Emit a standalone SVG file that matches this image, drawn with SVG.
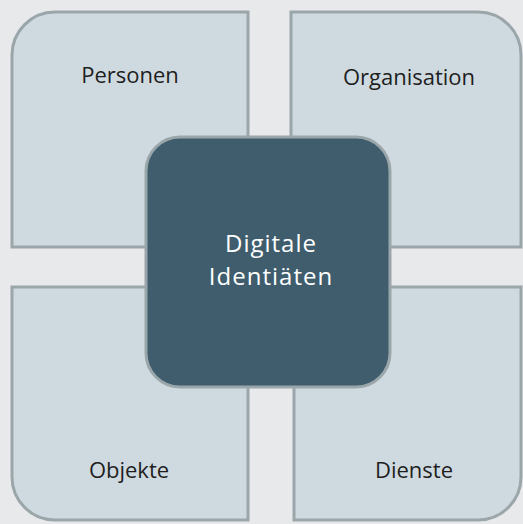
<svg xmlns="http://www.w3.org/2000/svg" width="523" height="524" viewBox="0 0 523 524">
  <style>
    .quad { fill: #cfdae0; stroke: #9ba6ab; stroke-width: 3; }
    .core { fill: #3f5d6d; stroke: #9ba6ab; stroke-width: 3; }
    .lbl { font-family: "Open Sans", "Noto Sans", sans-serif; font-size: 22px; fill: #1e1e1e; text-anchor: middle; }
    .lbl-core { font-family: "Open Sans", "Noto Sans", sans-serif; font-size: 24px; letter-spacing: 1px; fill: #ffffff; text-anchor: middle; }
  </style>
  <rect x="0" y="0" width="523" height="524" fill="#e8e9eb"/>

  <!-- quadrants: each rounds only its outer corner -->
  <g id="personen">
    <path class="quad" d="M12,55 A43,43 0 0 1 55,12 L248,12 L248,247 L12,247 Z"/>
    <text class="lbl" x="130" y="83">Personen</text>
  </g>
  <g id="organisation">
    <path class="quad" d="M291,12 L478,12 A43,43 0 0 1 521,55 L521,247 L291,247 Z"/>
    <text class="lbl" x="409" y="85">Organisation</text>
  </g>
  <g id="objekte">
    <path class="quad" d="M12,287 L248,287 L248,520 L55,520 A43,43 0 0 1 12,477 Z"/>
    <text class="lbl" x="129" y="478">Objekte</text>
  </g>
  <g id="dienste">
    <path class="quad" d="M294,287 L521,287 L521,477 A43,43 0 0 1 478,520 L294,520 Z"/>
    <text class="lbl" x="414" y="478">Dienste</text>
  </g>

  <!-- central node -->
  <g id="digitale-identitaeten">
    <rect class="core" x="146" y="137" width="244" height="250" rx="34" ry="34"/>
    <text class="lbl-core" x="271" y="252">Digitale</text>
    <text class="lbl-core" x="271" y="285">Identiäten</text>
  </g>
</svg>
